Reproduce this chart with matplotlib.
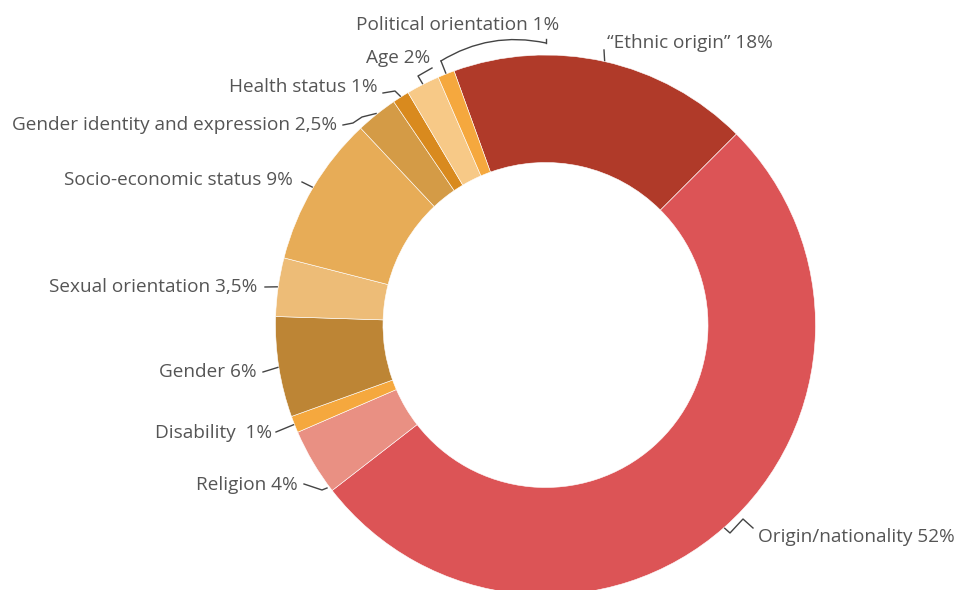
import numpy as np
import matplotlib.pyplot as plt
from matplotlib.patches import FancyArrowPatch

plt.rcParams['font.family'] = ['Open Sans', 'DejaVu Sans']

# shares in percent, clockwise from the top-left
labels = ["\u201cEthnic origin\u201d 18%", "Origin/nationality 52%", "Religion 4%",
          "Disability  1%", "Gender 6%", "Sexual orientation 3,5%",
          "Socio-economic status 9%", "Gender identity and expression 2,5%",
          "Health status 1%", "Age 2%", "Political orientation 1%"]
shares = [18, 52, 4, 1, 6, 3.5, 9, 2.5, 1, 2, 1]
colors = ["#b03a29", "#dc5456", "#e99083", "#f5a83e", "#bd8535", "#edbc77",
          "#e7ac57", "#d49b46", "#d98a1e", "#f7c987", "#f5a83e"]

# label anchor in pixels (x, y from top) and alignment
label_pos = [(607, 43, "left"), (758, 537, "left"), (298, 485, "right"),
             (272, 433, "right"), (257, 372, "right"), (257, 287, "right"),
             (293, 180, "right"), (337, 125, "right"), (378, 87, "right"),
             (430, 58, "right"), (458, 25, "center")]
# leader line points on the text side (pixels from top) and whether the line
# ends at the middle of the wedge's outer edge
leader_pts = [([(604, 50)], True),
              ([(753, 528), (743, 519), (730, 533)], True),
              ([(304, 484), (322, 490), (327, 488)], False),
              ([(276, 432)], True),
              ([(263, 372)], True),
              ([(265, 287)], True),
              ([(302, 182)], True),
              ([(343, 125), (353, 123), (362, 117)], True),
              ([(383, 93), (395, 91)], True),
              ([(432, 68), (418, 76)], True),
              (None, True)]

W, H = 958, 590
cx, cy, R, ring = 545.5, H - 325, 270, 107.5
text_color = "#555555"
line_color = "#444444"

fig = plt.figure(figsize=(W / 100, H / 100), dpi=100)
ax = fig.add_axes([0, 0, 1, 1])

wedges, _ = ax.pie(shares, colors=colors, startangle=109.8, counterclock=False,
                   center=(cx, cy), radius=R, frame=True,
                   wedgeprops=dict(width=ring, edgecolor="white", linewidth=0.4))
ax.set_xlim(0, W)
ax.set_ylim(0, H)
ax.set_aspect("equal")
ax.axis("off")

for w, text, (tx, ty, ha), (pts, to_mid) in zip(wedges, labels, label_pos, leader_pts):
    mid = np.deg2rad((w.theta1 + w.theta2) / 2)
    edge = (cx + (R + 1) * np.cos(mid), cy + (R + 1) * np.sin(mid))
    ax.text(tx, H - ty, text, ha=ha, va="center", fontsize=13.7, color=text_color)
    if pts is None:
        # long curved leader up to the centred label
        start = (cx + (R + 14) * np.cos(mid), cy + (R + 14) * np.sin(mid))
        top = (546, H - 43)
        ax.add_patch(FancyArrowPatch(start, top, arrowstyle="-", color=line_color,
                                     lw=1.0, connectionstyle="arc3,rad=-0.2",
                                     shrinkA=0, shrinkB=0))
        ax.plot([edge[0], start[0]], [edge[1], start[1]], color=line_color, lw=1.0)
        ax.plot([top[0], top[0]], [top[1], top[1] + 4], color=line_color, lw=1.0)
        continue
    xs = [p[0] for p in pts]
    ys = [H - p[1] for p in pts]
    if to_mid:
        xs.append(edge[0])
        ys.append(edge[1])
    ax.plot(xs, ys, color=line_color, lw=1.0)

fig.savefig("out.png", dpi=100)
